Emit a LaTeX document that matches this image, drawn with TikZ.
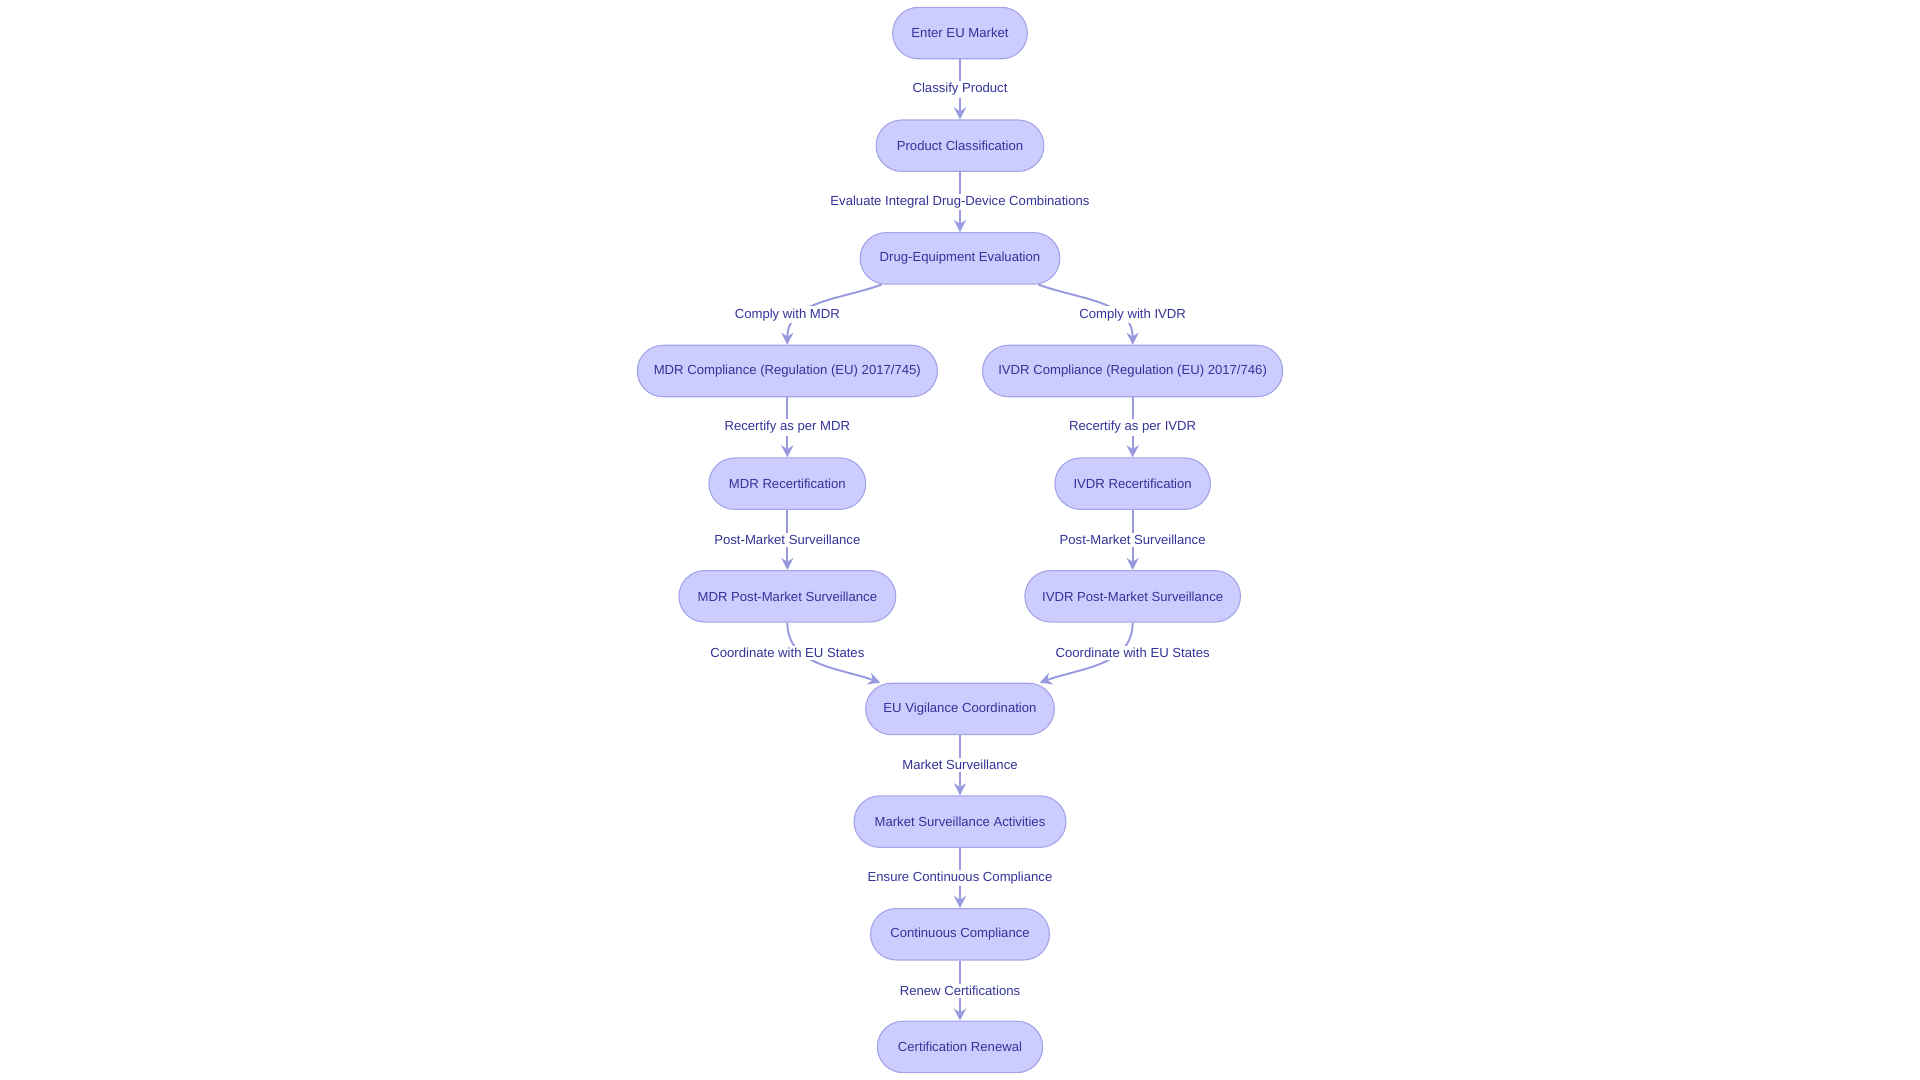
\documentclass[tikz,border=0pt]{standalone}
\usepackage{fontspec}
\setmainfont{Liberation Sans}
\usetikzlibrary{arrows.meta}
\definecolor{boxfill}{HTML}{CCCCFF}
\definecolor{boxline}{HTML}{A3A3E8}
\definecolor{txt}{HTML}{333399}
\definecolor{arr}{HTML}{9999E0}
\tikzset{
  box/.style={draw=boxline, fill=boxfill, line width=0.25pt, rounded corners=0.21cm,
    minimum height=0.42cm, inner sep=0pt, text=txt, font=\fontsize{3.05}{4}\selectfont},
  lbl/.style={fill=white, inner sep=0.5pt, text=txt, font=\fontsize{3.05}{4}\selectfont},
  flow/.style={draw=arr, line width=0.45pt, -{Stealth[length=2.8pt,width=2.8pt]}}
}
\begin{document}
\begin{tikzpicture}[x=0.01cm,y=-0.01cm]
\useasboundingbox (0,0) rectangle (1568,882);
% nodes
\node[box, minimum width=1.10cm] (enter) at (784,27) {Enter EU Market};
\node[box, minimum width=1.37cm] (classif) at (784,119) {Product Classification};
\node[box, minimum width=1.63cm] (drugeval) at (784,211) {Drug-Equipment Evaluation};
\node[box, minimum width=2.45cm] (mdr) at (643,303) {MDR Compliance (Regulation (EU) 2017/745)};
\node[box, minimum width=2.45cm] (ivdr) at (925,303) {IVDR Compliance (Regulation (EU) 2017/746)};
\node[box, minimum width=1.28cm] (mdrrec) at (643,395) {MDR Recertification};
\node[box, minimum width=1.27cm] (ivdrrec) at (925,395) {IVDR Recertification};
\node[box, minimum width=1.77cm] (mdrpms) at (643,487) {MDR Post-Market Surveillance};
\node[box, minimum width=1.76cm] (ivdrpms) at (925,487) {IVDR Post-Market Surveillance};
\node[box, minimum width=1.54cm] (vigil) at (784,579) {EU Vigilance Coordination};
\node[box, minimum width=1.73cm] (msa) at (784,671) {Market Surveillance Activities};
\node[box, minimum width=1.46cm] (contcomp) at (784,763) {Continuous Compliance};
\node[box, minimum width=1.35cm] (renew) at (784,855) {Certification Renewal};
% connectors
\draw[flow] (enter) -- (classif);
\draw[flow] (classif) -- (drugeval);
\draw[flow] ([xshift=-0.64cm]drugeval.south) to[out=-160,in=90] (mdr.north);
\draw[flow] ([xshift=0.64cm]drugeval.south) to[out=-20,in=90] (ivdr.north);
\draw[flow] (mdr) -- (mdrrec);
\draw[flow] (ivdr) -- (ivdrrec);
\draw[flow] (mdrrec) -- (mdrpms);
\draw[flow] (ivdrrec) -- (ivdrpms);
\draw[flow] (mdrpms.south) to[out=-90,in=160] ([xshift=-0.65cm]vigil.north);
\draw[flow] (ivdrpms.south) to[out=-90,in=20] ([xshift=0.65cm]vigil.north);
\draw[flow] (vigil) -- (msa);
\draw[flow] (msa) -- (contcomp);
\draw[flow] (contcomp) -- (renew);
% labels
\node[lbl] (l1) at (784,73) {Classify Product};
\node[lbl] (l2) at (784,165) {Evaluate Integral Drug-Device Combinations};
\node[lbl] (l3) at (643,257) {Comply with MDR};
\node[lbl] (l4) at (925,257) {Comply with IVDR};
\node[lbl] (l5) at (643,349) {Recertify as per MDR};
\node[lbl] (l6) at (925,349) {Recertify as per IVDR};
\node[lbl] (l7) at (643,441) {Post-Market Surveillance};
\node[lbl] (l8) at (925,441) {Post-Market Surveillance};
\node[lbl] (l9) at (643,533) {Coordinate with EU States};
\node[lbl] (l10) at (925,533) {Coordinate with EU States};
\node[lbl] (l11) at (784,625) {Market Surveillance};
\node[lbl] (l12) at (784,717) {Ensure Continuous Compliance};
\node[lbl] (l13) at (784,809) {Renew Certifications};
\end{tikzpicture}
\end{document}
